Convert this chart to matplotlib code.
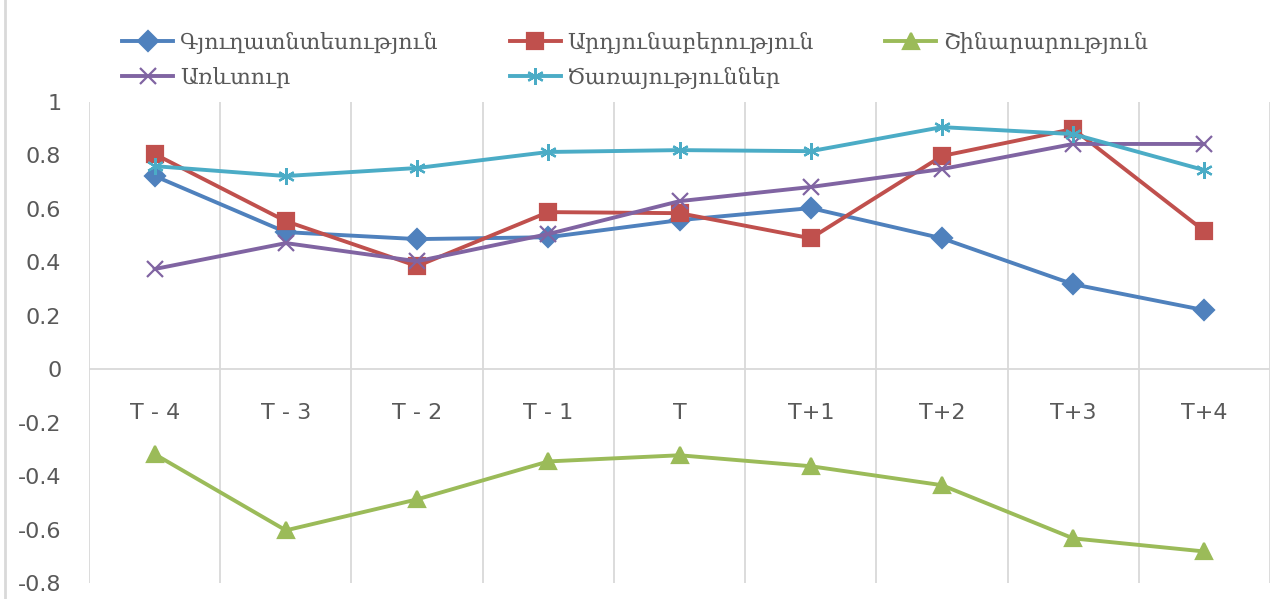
import matplotlib
matplotlib.use("Agg")
import matplotlib.pyplot as plt
from matplotlib.lines import Line2D

categories = ["T - 4", "T - 3", "T - 2", "T - 1", "T", "T+1", "T+2", "T+3", "T+4"]
agriculture = [0.723, 0.513, 0.487, 0.494, 0.558, 0.603, 0.490, 0.318, 0.221]
industry = [0.805, 0.554, 0.386, 0.588, 0.584, 0.490, 0.798, 0.899, 0.517]
construction = [-0.318, -0.603, -0.487, -0.345, -0.322, -0.363, -0.434, -0.633, -0.682]
trade = [0.375, 0.472, 0.404, 0.506, 0.629, 0.682, 0.749, 0.843, 0.843]
services = [0.760, 0.723, 0.753, 0.813, 0.820, 0.816, 0.906, 0.880, 0.745]

names = ["Գյուղատնտեսություն", "Արդյունաբերություն", "Շինարարություն", "Առևտուր", "Ծառայություններ"]
yticks = [-0.8, -0.6, -0.4, -0.2, 0, 0.2, 0.4, 0.6, 0.8, 1]
ytick_labels = ["-0.8", "-0.6", "-0.4", "-0.2", "0", "0.2", "0.4", "0.6", "0.8", "1"]

grey = "#595959"
grid = "#D9D9D9"

fig = plt.figure(figsize=(12.87, 5.99), dpi=100)
ax = fig.add_axes([0.0692, 0.0267, 0.9176, 0.803])
x = list(range(len(categories)))

styles = [
    (agriculture, "#4F81BD", "D", 10),
    (industry, "#C0504D", "s", 11),
    (construction, "#9BBB59", "^", 12),
    (trade, "#8064A2", "x", 12),
    (services, "#4BACC6", (6, 2, 0), 12),
]
handles = []
for (vals, col, mk, ms), nm in zip(styles, names):
    h, = ax.plot(x, vals, color=col, lw=2.8, marker=mk, markersize=ms,
                 markerfacecolor=col, markeredgecolor=col, markeredgewidth=1.6,
                 label=nm)
    handles.append(h)

ax.set_xlim(-0.5, 8.5)
ax.set_ylim(-0.8, 1)
for b in [i - 0.5 for i in range(len(categories) + 1)]:
    ax.axvline(b, color=grid, lw=1.3, zorder=0)
ax.axhline(0, color=grid, lw=1.3, zorder=0)
for s in ["top", "right", "left", "bottom"]:
    ax.spines[s].set_visible(False)

ax.set_yticks(yticks)
ax.set_yticklabels(ytick_labels)
ax.set_xticks(x)
ax.set_xticklabels(categories)
ax.tick_params(axis="y", length=0, pad=20, labelsize=16, labelcolor=grey)
ax.tick_params(axis="x", length=0, pad=24, labelsize=16, labelcolor=grey)
# category labels sit just under the zero line, as in Excel
for lbl in ax.get_xticklabels():
    lbl.set_y(0.444)
    lbl.set_verticalalignment("top")

order = [0, 3, 1, 4, 2]
fig.legend([handles[i] for i in order], [names[i] for i in order], ncol=3,
           loc="upper left", bbox_to_anchor=(0.088, 0.962), frameon=False,
           prop={"family": ["DejaVu Serif", "DejaVu Sans"], "size": 16},
           labelcolor=grey, handlelength=2.3, handletextpad=0.3,
           columnspacing=3.2, labelspacing=0.6, borderaxespad=0)

fig.add_artist(Line2D([0.004, 0.004], [0, 1], color=grid, lw=2, transform=fig.transFigure))

fig.savefig("out.png", dpi=100)
